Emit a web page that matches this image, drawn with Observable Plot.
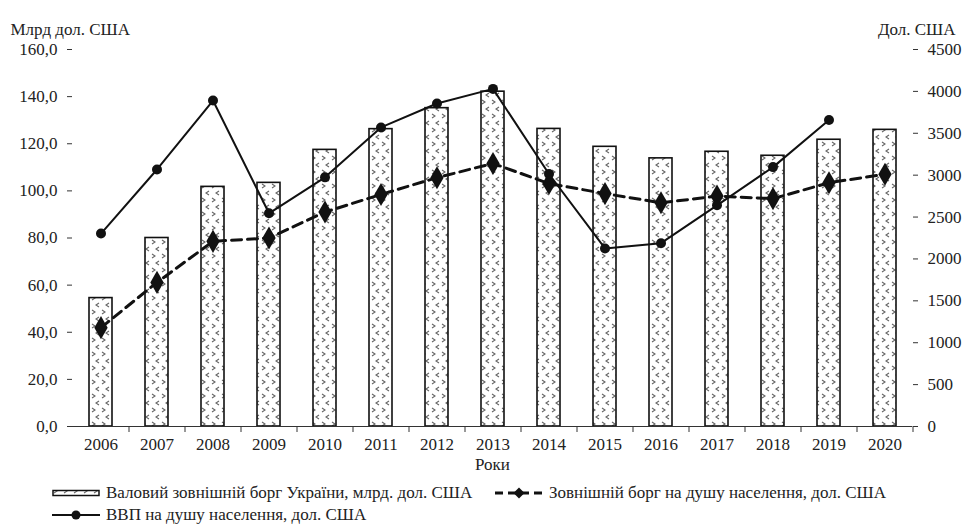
<!DOCTYPE html>
<html><head><meta charset="utf-8">
<script src="https://cdn.jsdelivr.net/npm/d3@7"></script>
<script src="https://cdn.jsdelivr.net/npm/@observablehq/plot@0.6"></script>
<style>
body{margin:0;background:#fff;font-family:"Liberation Serif","Times New Roman",serif;color:#222;}
#chart{position:relative;width:966px;height:529px;overflow:hidden;}
.lg{position:absolute;display:flex;align-items:center;font-size:17px;white-space:nowrap;height:20px;}
.lg svg{margin-right:6px;}
</style></head><body>
<svg width="0" height="0" style="position:absolute">
  <defs>
    <pattern id="chev" patternUnits="userSpaceOnUse" width="10" height="14">
      <rect width="10" height="14" fill="#fff"/>
      <path d="M2,2 L5,4 L2,6 M9,9 L6,11 L9,13" fill="none" stroke="#666" stroke-width="1.1"/>
    </pattern>
  </defs>
</svg>
<div id="chart"></div>
<script>
const years = [2006, 2007, 2008, 2009, 2010, 2011, 2012, 2013, 2014, 2015, 2016, 2017, 2018, 2019, 2020];
const grossDebt = [54.5, 80.0, 101.7, 103.4, 117.4, 126.2, 135.1, 142.1, 126.3, 118.7, 113.8, 116.6, 114.9, 121.7, 125.9];
const debtPerCapita = [1180, 1720, 2210, 2250, 2560, 2770, 2970, 3140, 2900, 2780, 2670, 2750, 2720, 2910, 3010];
const gdpPerCapita = [2303, 3068, 3891, 2545, 2974, 3570, 3855, 4030, 3014, 2125, 2188, 2640, 3096, 3659, null];
const leftTicks = [0, 20, 40, 60, 80, 100, 120, 140, 160];
const rightTicks = [0, 500, 1000, 1500, 2000, 2500, 3000, 3500, 4000, 4500];
const LEFT_MAX = 160, RIGHT_MAX = 4500;
const leftTitle = "Млрд дол. США";
const rightTitle = "Дол. США";
const xTitle = "Роки";
const legendLabels = [
  "Валовий зовнішній борг України, млрд. дол. США",
  "Зовнішній борг на душу населення, дол. США",
  "ВВП на душу населення, дол. США"
];

const toLeft = v => v == null ? null : v * LEFT_MAX / RIGHT_MAX;
const rows = years.map((year, i) => ({
  year: String(year),
  debt: grossDebt[i],
  debtPC: toLeft(debtPerCapita[i]),
  gdpPC: toLeft(gdpPerCapita[i])
}));
const ink = "#222";

const plot = Plot.plot({
  width: 966,
  height: 480,
  marginTop: 49,
  marginBottom: 54,
  marginLeft: 72,
  marginRight: 54,
  style: {fontFamily: "Liberation Serif, Times New Roman, serif", fontSize: "17px", color: ink, background: "#fff"},
  x: {type: "band", domain: years.map(String), paddingInner: 0.59, paddingOuter: 0.295, label: null},
  y: {domain: [0, LEFT_MAX], label: null},
  marks: [
    Plot.barY(rows, {x: "year", y: "debt", fill: "url(#chev)", stroke: "#111", strokeWidth: 1.6}),
    Plot.line(rows, {x: "year", y: "debtPC", stroke: "#111", strokeWidth: 3, strokeDasharray: "10,6"}),
    Plot.dot(rows, {x: "year", y: "debtPC", symbol: "diamond", r: 7, fill: "#111", stroke: "none"}),
    Plot.line(rows, {x: "year", y: "gdpPC", stroke: "#111", strokeWidth: 2}),
    Plot.dot(rows.filter(d => d.gdpPC != null), {x: "year", y: "gdpPC", r: 5, fill: "#111", stroke: "none"}),
    Plot.ruleY([0], {stroke: "#333", strokeWidth: 1}),
    Plot.axisY(leftTicks, {anchor: "left", label: null, line: true, tickSize: 5, tickPadding: 10, stroke: "#333",
      tickFormat: d => d.toFixed(1).replace(".", ",")}),
    Plot.axisY(rightTicks.map(toLeft), {anchor: "right", label: null, line: true, tickSize: 5, tickPadding: 10, stroke: "#333",
      tickFormat: d => String(Math.round(d * RIGHT_MAX / LEFT_MAX))}),
    Plot.axisX({anchor: "bottom", label: null, tickSize: 0, tickPadding: 11}),
    Plot.axisX({anchor: "bottom", label: null, tickSize: 6, dx: 28, stroke: "#333", tickFormat: () => ""}),
    Plot.text([leftTitle], {frameAnchor: "top-left", text: d => d, dx: -62, dy: -27, textAnchor: "start", fontSize: 17, fill: ink}),
    Plot.text([rightTitle], {frameAnchor: "top-right", text: d => d, dx: 43, dy: -27, textAnchor: "end", fontSize: 17, fill: ink}),
    Plot.text([xTitle], {frameAnchor: "bottom", text: d => d, dy: 43, fontSize: 17, fill: ink})
  ]
});
const chart = document.getElementById("chart");
chart.appendChild(plot);

// Legend
function item(left, top, swatch, label) {
  const div = document.createElement("div");
  div.className = "lg";
  div.style.left = left + "px";
  div.style.top = top + "px";
  div.innerHTML = swatch + "<span>" + label + "</span>";
  chart.appendChild(div);
}
const swBar = '<svg width="48" height="12"><rect x="1" y="3.5" width="46" height="5" fill="url(#chev)" stroke="#111" stroke-width="1.5"/></svg>';
const swDash = '<svg width="48" height="14"><line x1="0" y1="7" x2="48" y2="7" stroke="#111" stroke-width="3" stroke-dasharray="8,5"/><path d="M24,1.5 L29.5,7 L24,12.5 L18.5,7Z" fill="#111"/></svg>';
const swLine = '<svg width="48" height="12"><line x1="0" y1="6" x2="48" y2="6" stroke="#111" stroke-width="2"/><circle cx="24" cy="6" r="4.5" fill="#111"/></svg>';
item(52, 483, swBar, legendLabels[0]);
item(495, 483, swDash, legendLabels[1]);
item(52, 505, swLine, legendLabels[2]);
</script>
</body></html>
